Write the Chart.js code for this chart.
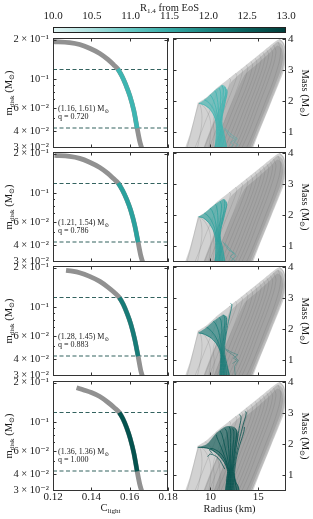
<!DOCTYPE html>
<html>
<head>
<meta charset="utf-8">
<script src="https://cdn.jsdelivr.net/npm/chart.js@4.4.1/dist/chart.umd.min.js"></script>
<style>
  html, body { margin:0; padding:0; background:#ffffff; }
  #wrap { position:relative; width:313px; height:519px; overflow:hidden; background:#fff; }
  #wrap canvas { position:absolute; left:0; top:0; }
  .lbl { position:absolute; font-family:"Liberation Serif","DejaVu Serif",serif; color:#1a1a1a; white-space:nowrap; line-height:1; }
  .lbl sub { font-size:68%; vertical-align:-0.3em; line-height:0; }
</style>
</head>
<body>
<div id="wrap"></div>
<script>
// ================= DATA =================
const colorbarTicks  = [10.0, 10.5, 11.0, 11.5, 12.0, 12.5, 13.0];
const colorbarStops  = [10.0, 10.5, 11.0, 11.5, 12.0, 12.5, 13.0];
const colorbarColors = ['#e2f4f3','#abe0de','#67c8c4','#36a9a5','#1b837f','#0a5f5b','#013d3a'];

const binaryMasses = ['(1.16, 1.61)', '(1.21, 1.54)', '(1.28, 1.45)', '(1.36, 1.36)'];
const massRatios   = ['0.720', '0.786', '0.883', '1.000'];
const panelColors  = ['#3db5b1', '#2aa19d', '#177b77', '#04524e'];

const cLightTicks     = [0.12, 0.14, 0.16, 0.18];
const mDiskTicks      = [0.03, 0.04, 0.06, 0.1, 0.2];
const mDiskTickLabels = ['3 × 10⁻²', '4 × 10⁻²', '6 × 10⁻²', '10⁻¹', '2 × 10⁻¹'];
const mDiskMinorTicks = [0.05, 0.07, 0.08, 0.09];
const radiusTicks     = [10, 15];
const massTicks       = [1, 2, 3, 4];
const mDiskBounds     = [0.118, 0.042];

// m_disk(C_light) curves, one per row
const cLight1 = [0.1200,0.1286,0.1339,0.1391,0.1444,0.1486,0.1517,0.1538,0.1559,0.1580,0.1601,0.1622,0.1639,0.1653,0.1664];
const mDisk1  = [0.1937,0.1900,0.1838,0.1718,0.1567,0.1410,0.1280,0.1192,0.1055,0.0899,0.0741,0.0569,0.0418,0.0330,0.0291];
const cLight2 = [0.1208,0.1286,0.1339,0.1391,0.1444,0.1486,0.1517,0.1540,0.1562,0.1584,0.1605,0.1626,0.1644,0.1658,0.1669];
const mDisk2  = [0.1940,0.1905,0.1840,0.1720,0.1568,0.1412,0.1282,0.1190,0.1052,0.0896,0.0739,0.0567,0.0418,0.0330,0.0291];
const cLight3 = [0.1268,0.1300,0.1339,0.1391,0.1444,0.1486,0.1520,0.1546,0.1566,0.1586,0.1606,0.1626,0.1644,0.1657,0.1667];
const mDisk3  = [0.1905,0.1880,0.1830,0.1716,0.1570,0.1420,0.1290,0.1180,0.1050,0.0895,0.0738,0.0567,0.0418,0.0330,0.0291];
const cLight4 = [0.1323,0.1360,0.1400,0.1444,0.1486,0.1520,0.1546,0.1565,0.1584,0.1603,0.1622,0.1639,0.1653,0.1664];
const mDisk4  = [0.1830,0.1760,0.1680,0.1565,0.1415,0.1285,0.1180,0.1055,0.0905,0.0745,0.0575,0.0418,0.0330,0.0291];
const coloredRange = [[7,12],[7,12],[7,12],[6,11]];   // indices of the EoS-allowed part

// Mass-radius: all EoS (grey) [R km, M Msun]
const fanOutline = [[7.3,0.45],[7.8,0.9],[8.25,1.4],[8.55,1.78],[8.68,1.93],[9.5,2.1],[10.6,2.4],[12.0,2.74],[13.5,3.1],[15.0,3.47],[16.3,3.8],[17.0,3.96],[17.3,3.99],[17.7,3.85],[17.9,3.5],[17.7,3.0],[16.4,2.0],[15.2,1.1],[14.4,0.45]];
const fanCore = [[9.2,0.45],[10.0,1.1],[10.9,1.75],[11.7,2.3],[12.2,2.62],[13.5,2.98],[15.0,3.36],[16.3,3.7],[17.05,3.9],[17.55,3.78],[17.75,3.45],[17.5,3.0],[16.25,2.0],[15.05,1.1],[14.25,0.45]];
const fanDense = [[10.3,0.45],[11.0,1.0],[11.9,1.7],[12.8,2.35],[13.6,2.85],[15.0,3.22],[16.3,3.58],[17.0,3.78],[17.45,3.68],[17.6,3.4],[17.35,3.0],[16.1,2.0],[14.9,1.1],[14.1,0.45]];
const greyCurves = [
  [[7.5,0.45],[7.9,0.9],[8.3,1.4],[8.6,1.75],[8.75,1.9],[8.68,1.95]],
  [[8.6,0.45],[8.9,0.9],[9.1,1.35],[9.05,1.7],[8.85,1.92],[8.75,1.94]],
  [[9.8,0.45],[10.0,0.9],[10.0,1.35],[9.6,1.7],[9.0,1.92],[8.8,1.94]],
  [[10.9,0.45],[11.0,0.9],[10.9,1.35],[10.4,1.75],[9.6,2.04],[9.4,2.08]],
  [[8.3,0.45],[8.9,0.9],[9.6,1.45],[10.3,1.95],[10.7,2.33],[10.6,2.4]],
  [[9.3,0.45],[10.0,1.0],[10.9,1.7],[11.7,2.3],[12.1,2.67],[11.95,2.74]],
  [[9.8,0.45],[10.5,1.0],[11.4,1.7],[12.25,2.35],[12.75,2.8],[12.6,2.9]],
  [[10.3,0.45],[11.0,1.0],[11.9,1.7],[12.8,2.4],[13.35,2.95],[13.2,3.04]],
  [[10.6,0.45],[11.4,1.0],[12.35,1.72],[13.3,2.45],[13.9,3.03],[13.75,3.16]],
  [[11.0,0.45],[11.8,1.0],[12.8,1.75],[13.8,2.5],[14.4,3.12],[14.25,3.27]],
  [[11.4,0.45],[12.2,1.0],[13.2,1.78],[14.2,2.55],[14.85,3.2],[14.7,3.37]],
  [[11.8,0.45],[12.6,1.0],[13.6,1.8],[14.6,2.6],[15.3,3.3],[15.15,3.47]],
  [[12.15,0.45],[12.95,1.0],[13.95,1.8],[15.0,2.65],[15.7,3.38],[15.5,3.56]],
  [[12.5,0.45],[13.3,1.0],[14.3,1.8],[15.4,2.7],[16.1,3.45],[15.9,3.64]],
  [[12.85,0.45],[13.65,1.0],[14.7,1.85],[15.8,2.75],[16.5,3.5],[16.25,3.72]],
  [[13.2,0.45],[14.0,1.0],[15.1,1.9],[16.2,2.8],[16.85,3.55],[16.6,3.8]],
  [[13.7,0.45],[14.55,1.05],[15.7,1.95],[16.85,2.9],[17.35,3.58],[17.1,3.88]],
  [[14.2,0.45],[15.1,1.1],[16.3,2.0],[17.5,3.0],[17.8,3.55],[17.6,3.85],[17.2,3.97]],
  [[10.2,0.45],[10.4,0.95],[10.3,1.4],[10.9,1.9],[11.3,2.3],[11.2,2.5]]
];

// Mass-radius: EoS consistent with each binary (coloured)
const tealShape1 = [[8.8,1.93],[9.4,2.05],[10.0,2.22],[10.5,2.36],[11.0,2.47],[11.3,2.52],[11.6,2.45],[11.75,2.28],[11.55,1.95],[11.2,1.35],[11.45,0.9],[11.7,0.45],[10.5,0.45],[10.6,0.9],[10.55,1.35],[10.1,1.68],[9.4,1.87]];
const tealCurves1 = [
  [[10.5,0.45],[10.6,0.9],[10.55,1.35],[10.1,1.68],[9.4,1.87],[8.8,1.93]],
  [[10.65,0.45],[10.72,0.9],[10.66,1.35],[10.3,1.74],[9.7,1.98],[9.35,2.04]],
  [[10.8,0.45],[10.85,0.9],[10.78,1.35],[10.55,1.8],[10.15,2.13],[9.95,2.2]],
  [[10.95,0.45],[10.98,0.9],[10.88,1.35],[10.8,1.85],[10.6,2.25],[10.45,2.33]],
  [[11.1,0.45],[11.08,0.9],[10.97,1.35],[11.05,1.9],[11.05,2.3],[10.9,2.42]],
  [[11.25,0.45],[11.18,0.9],[11.05,1.35],[11.25,1.92],[11.35,2.38],[11.2,2.5]],
  [[11.45,0.45],[11.3,0.9],[11.12,1.35],[11.42,1.95],[11.6,2.3],[11.5,2.45]],
  [[11.7,0.45],[11.45,0.9],[11.2,1.35],[11.55,1.98],[11.75,2.28],[11.68,2.38]]
];
const tealWiggles1 = [
  [[12.0,0.5],[12.4,0.6],[12.1,0.68],[12.6,0.78],[12.0,0.88],[11.4,1.15]],
  [[12.6,0.5],[12.9,0.6],[12.5,0.68],[12.8,0.8],[12.3,0.9],[11.6,1.1]]
];
const tealShape2 = [[8.75,1.95],[9.35,2.06],[9.95,2.22],[10.5,2.35],[11.0,2.45],[11.4,2.52],[11.65,2.45],[11.7,2.32],[11.45,1.98],[11.02,1.36],[11.3,0.9],[11.5,0.45],[10.5,0.45],[10.55,0.9],[10.45,1.36],[9.95,1.7],[9.3,1.9]];
const tealCurves2 = [
  [[10.5,0.45],[10.55,0.9],[10.45,1.36],[9.95,1.7],[9.3,1.9],[8.75,1.95]],
  [[10.65,0.45],[10.68,0.9],[10.58,1.36],[10.2,1.76],[9.65,2.0],[9.35,2.06]],
  [[10.8,0.45],[10.8,0.9],[10.68,1.36],[10.5,1.82],[10.15,2.15],[9.95,2.22]],
  [[10.95,0.45],[10.92,0.9],[10.78,1.36],[10.78,1.88],[10.65,2.27],[10.5,2.35]],
  [[11.1,0.45],[11.03,0.9],[10.86,1.36],[11.05,1.92],[11.15,2.33],[11.0,2.45]],
  [[11.28,0.45],[11.15,0.9],[10.94,1.36],[11.3,1.95],[11.5,2.38],[11.4,2.5]],
  [[11.5,0.45],[11.3,0.9],[11.02,1.36],[11.45,1.98],[11.7,2.32],[11.62,2.43]]
];
const tealWiggles2 = [
  [[12.0,0.5],[12.35,0.6],[12.05,0.68],[12.5,0.78],[11.9,0.88],[11.3,1.15]],
  [[12.6,0.5],[12.4,0.6],[12.7,0.7],[12.2,0.85],[11.5,1.1]]
];
const tealShape3 = [[8.75,1.88],[9.6,2.06],[10.3,2.25],[10.9,2.38],[11.35,2.46],[11.6,2.42],[11.7,2.3],[11.6,1.92],[11.4,1.3],[11.7,0.9],[12.0,0.45],[11.0,0.45],[11.05,0.9],[11.0,1.3],[10.3,1.65],[9.4,1.83]];
const tealCurves3 = [
  [[11.0,0.45],[11.05,0.9],[11.0,1.3],[10.3,1.65],[9.4,1.83],[8.75,1.88]],
  [[11.1,0.45],[11.15,0.9],[11.08,1.3],[10.6,1.72],[9.9,2.0],[9.6,2.06]],
  [[11.2,0.45],[11.25,0.9],[11.15,1.3],[10.95,1.8],[10.55,2.17],[10.3,2.25]],
  [[11.35,0.45],[11.35,0.9],[11.22,1.3],[11.2,1.85],[11.1,2.28],[10.9,2.38]],
  [[11.5,0.45],[11.45,0.9],[11.3,1.3],[11.42,1.9],[11.5,2.35],[11.35,2.46]],
  [[11.7,0.45],[11.55,0.9],[11.4,1.3],[11.6,1.92],[11.7,2.3],[11.6,2.42]],
  [[12.0,0.45],[11.7,0.9],[11.48,1.3],[11.7,1.95],[12.1,2.55],[12.25,2.78],[12.1,2.82]]
];
const tealWiggles3 = [
  [[12.3,0.9],[12.8,1.0],[12.4,1.07],[12.85,1.18],[12.2,1.26],[11.5,1.38]],
  [[12.6,0.5],[12.5,0.8],[12.9,1.0],[12.45,1.15],[11.6,1.33]]
];
const tealShape4 = [[8.65,1.9],[9.6,2.0],[10.5,2.32],[11.0,2.45],[11.5,2.55],[12.0,2.58],[12.6,2.52],[12.9,2.3],[12.7,1.9],[12.4,1.2],[12.6,0.9],[13.0,0.45],[11.6,0.45],[11.7,0.9],[11.75,1.2],[11.0,1.6],[9.9,1.85]];
const tealCurves4 = [
  [[11.6,0.45],[11.7,0.9],[11.75,1.2],[11.0,1.6],[9.9,1.85],[8.65,1.9]],
  [[11.7,0.45],[11.8,0.9],[11.82,1.2],[11.2,1.65],[10.3,1.85],[9.9,1.83],[10.2,1.7]],
  [[11.8,0.45],[11.88,0.9],[11.9,1.2],[11.3,1.75],[10.7,2.2],[10.6,2.3]],
  [[11.9,0.45],[11.95,0.9],[11.98,1.2],[11.6,1.8],[11.2,2.3],[11.0,2.42]],
  [[12.0,0.45],[12.02,0.9],[12.05,1.2],[11.9,1.85],[11.7,2.4],[11.5,2.5]],
  [[12.1,0.45],[12.1,0.9],[12.12,1.2],[12.1,1.9],[12.1,2.45],[11.95,2.55]],
  [[12.2,0.45],[12.18,0.9],[12.2,1.2],[12.35,1.9],[12.45,2.4],[12.3,2.5]],
  [[12.35,0.45],[12.28,0.9],[12.3,1.2],[12.55,1.9],[12.75,2.4],[12.6,2.5]],
  [[12.5,0.45],[12.38,0.9],[12.38,1.2],[12.7,1.9],[13.0,2.5],[13.2,2.85],[13.05,2.95]],
  [[12.8,0.45],[12.5,0.9],[12.45,1.2],[12.85,1.9],[13.4,2.6],[13.75,3.0],[13.6,3.05]],
  [[13.0,0.45],[12.9,0.65],[12.6,0.8],[12.55,1.2],[12.9,1.8],[13.5,2.4],[13.55,2.55]],
  [[11.5,1.2],[10.8,1.55],[10.0,1.68],[9.7,1.6]]
];
const tealWiggles4 = [];

const leftData  = [[cLight1,mDisk1],[cLight2,mDisk2],[cLight3,mDisk3],[cLight4,mDisk4]];
const rightData = [[tealShape1,tealCurves1,tealWiggles1],[tealShape2,tealCurves2,tealWiggles2],
                   [tealShape3,tealCurves3,tealWiggles3],[tealShape4,tealCurves4,tealWiggles4]];

// ================= LAYOUT =================
const W = 313, H = 519;
const rowTops = [38, 152, 266, 381], rowH = 110;
const leftBox = [53, 168], rightBox = [173, 286];
const cRange = [0.12, 0.18], mRange = [0.0295, 0.206];
const rRange = [6.08, 17.9], massRange = [0.5, 4.02];
const FONT = '"Liberation Serif", "DejaVu Serif", serif';
const INK = '#1a1a1a';

Chart.defaults.font.family = FONT;
Chart.defaults.color = INK;

const framePlugin = {
  id: 'frame',
  afterDraw(chart, args, o) {
    if (!o || !o.on) return;
    const {ctx, chartArea: a, scales} = chart;
    ctx.save();
    ctx.strokeStyle = '#333'; ctx.lineWidth = 1;
    ctx.beginPath();
    const tick = (vals, len, axis) => (vals || []).forEach(v => {
      if (axis === 'x') {
        const p = Math.round(scales.x.getPixelForValue(v)) + 0.5;
        ctx.moveTo(p, a.top); ctx.lineTo(p, a.top + len);
        ctx.moveTo(p, a.bottom); ctx.lineTo(p, a.bottom - len);
      } else {
        const p = Math.round(scales.y.getPixelForValue(v)) + 0.5;
        ctx.moveTo(a.left, p); ctx.lineTo(a.left + len, p);
        ctx.moveTo(a.right, p); ctx.lineTo(a.right - len, p);
      }
    });
    tick(o.xMajor, 3.5, 'x'); tick(o.yMajor, 3.5, 'y'); tick(o.yMinor, 2, 'y');
    ctx.stroke();
    ctx.strokeRect(a.left + 0.5, a.top + 0.5, a.right - a.left - 1, a.bottom - a.top - 1);
    ctx.restore();
  }
};
const cbarPlugin = {
  id: 'cbar',
  beforeDatasetsDraw(chart, args, o) {
    if (!o || !o.on) return;
    const {ctx, chartArea: a, scales: {x}} = chart;
    const g = ctx.createLinearGradient(a.left, 0, a.right, 0);
    colorbarStops.forEach((v, i) => g.addColorStop((x.getPixelForValue(v) - a.left) / (a.right - a.left), colorbarColors[i]));
    ctx.save();
    ctx.fillStyle = g; ctx.fillRect(a.left, a.top, a.right - a.left, a.bottom - a.top);
    ctx.strokeStyle = '#222'; ctx.lineWidth = 1;
    ctx.strokeRect(a.left + 0.5, a.top + 0.5, a.right - a.left - 1, a.bottom - a.top - 1);
    ctx.restore();
  }
};
Chart.register(framePlugin, cbarPlugin);

const wrap = document.getElementById('wrap');
function newCanvas() {
  const c = document.createElement('canvas');
  c.width = W; c.height = H; c.style.width = W + 'px'; c.style.height = H + 'px';
  wrap.appendChild(c); return c;
}
function fixW(w) { return s => { s.width = w; s.paddingTop = 0; s.paddingBottom = 0; s.paddingLeft = 0; s.paddingRight = 0; }; }
function fixH(h) { return s => { s.height = h; s.paddingTop = 0; s.paddingBottom = 0; s.paddingLeft = 0; s.paddingRight = 0; }; }
const xy = pairs => pairs.map(p => ({x: p[0], y: p[1]}));
function rgba(hex, a) {
  const n = parseInt(hex.slice(1), 16);
  return `rgba(${n >> 16},${(n >> 8) & 255},${n & 255},${a})`;
}
const baseOpts = {
  responsive: false, animation: false, devicePixelRatio: 1,
  events: [], plugins: {legend: {display: false}, tooltip: {enabled: false}},
  elements: {point: {radius: 0}}
};

// ================= COLORBAR =================
new Chart(newCanvas(), {
  type: 'scatter',
  data: {datasets: [{data: []}]},
  options: Object.assign({}, baseOpts, {
    layout: {padding: {left: leftBox[0], right: W - rightBox[1], top: 0, bottom: H - 33}},
    plugins: Object.assign({}, baseOpts.plugins, {cbar: {on: true}}),
    scales: {
      x: {type: 'linear', position: 'top', min: colorbarTicks[0], max: colorbarTicks[colorbarTicks.length - 1],
          afterFit: fixH(27), afterBuildTicks: s => { s.ticks = colorbarTicks.map(v => ({value: v})); },
          grid: {display: false, drawTicks: false}, border: {display: false},
          ticks: {font: {size: 11}, color: INK, padding: 4, maxRotation: 0, callback: v => Number(v).toFixed(1)}},
      y: {display: false, min: 0, max: 1}
    }
  })
});

// ================= LEFT PANELS =================
for (let i = 0; i < 4; i++) {
  const T = rowTops[i], B = T + rowH, bottomRow = (i === 3);
  const [cl, md] = leftData[i];
  const pts = cl.map((c, k) => ({x: c, y: md[k]}));
  const [s0, s1] = coloredRange[i];
  const ds = [];
  ds.push({data: pts.slice(s0, s1 + 1), borderColor: panelColors[i], borderWidth: 4.4, showLine: true,
           pointRadius: 0, cubicInterpolationMode: 'monotone', order: 1});
  ds.push({data: pts, borderColor: '#919191', borderWidth: 4.8, showLine: true,
           pointRadius: 0, cubicInterpolationMode: 'monotone', order: 2});
  mDiskBounds.forEach((b, k) => ds.push({data: [{x: cRange[0], y: b}, {x: cRange[1], y: b}],
           borderColor: '#33625f', borderWidth: 1.1, borderDash: [4, 2.5], showLine: true, pointRadius: 0, order: 3 + k}));
  new Chart(newCanvas(), {
    type: 'scatter',
    data: {datasets: ds},
    options: Object.assign({}, baseOpts, {
      layout: {padding: {left: 0, right: W - leftBox[1], top: T, bottom: H - B - 20}},
      plugins: Object.assign({}, baseOpts.plugins, {frame: {on: true, xMajor: cLightTicks, yMajor: mDiskTicks, yMinor: mDiskMinorTicks}}),
      scales: {
        x: {type: 'linear', min: cRange[0], max: cRange[1], afterFit: fixH(20),
            afterBuildTicks: s => { s.ticks = cLightTicks.map(v => ({value: v})); },
            grid: {display: false, drawTicks: false}, border: {display: false},
            ticks: {display: bottomRow, font: {size: 11}, color: INK, padding: 0, maxRotation: 0,
                    callback: v => Number(v).toFixed(2)}},
        y: {type: 'logarithmic', min: mRange[0], max: mRange[1], afterFit: fixW(leftBox[0]),
            afterBuildTicks: s => { s.ticks = mDiskTicks.map(v => ({value: v})); },
            grid: {display: false, drawTicks: false}, border: {display: false},
            ticks: {font: {size: 10.5}, color: INK, padding: 4, callback: (v, idx) => mDiskTickLabels[idx]}}
      }
    })
  });
}

// ================= RIGHT PANELS =================
for (let i = 0; i < 4; i++) {
  const T = rowTops[i], B = T + rowH, bottomRow = (i === 3);
  const [shape, curves, wiggles] = rightData[i];
  const col = panelColors[i];
  const ds = [];
  ds.push({data: xy(fanOutline), showLine: true, borderWidth: 0, borderColor: 'rgba(0,0,0,0)',
           backgroundColor: 'rgba(165,165,165,0.5)', fill: 'shape', tension: 0.2, pointRadius: 0, order: 100});
  ds.push({data: xy(fanCore), showLine: true, borderWidth: 0, borderColor: 'rgba(0,0,0,0)',
           backgroundColor: 'rgba(120,120,120,0.3)', fill: 'shape', tension: 0.2, pointRadius: 0, order: 99});
  ds.push({data: xy(fanDense), showLine: true, borderWidth: 0, borderColor: 'rgba(0,0,0,0)',
           backgroundColor: 'rgba(120,120,120,0.3)', fill: 'shape', tension: 0.2, pointRadius: 0, order: 98});
  greyCurves.forEach((c, k) => ds.push({data: xy(c), showLine: true, borderWidth: 0.8,
           borderColor: 'rgba(95,95,95,0.22)', tension: 0.4, pointRadius: 0, order: 90 - k}));
  ds.push({data: xy(shape), showLine: true, borderWidth: 0, borderColor: 'rgba(0,0,0,0)',
           backgroundColor: rgba(col, 0.62), fill: 'shape', tension: 0.3, pointRadius: 0, order: 50});
  curves.forEach((c, k) => ds.push({data: xy(c), showLine: true, borderWidth: 0.9,
           borderColor: rgba(col, 0.85), tension: 0.4, pointRadius: 0, order: 40 - k}));
  wiggles.forEach((c, k) => ds.push({data: xy(c), showLine: true, borderWidth: 0.7,
           borderColor: rgba(col, 0.6), tension: 0, pointRadius: 0, order: 20 - k}));
  new Chart(newCanvas(), {
    type: 'scatter',
    data: {datasets: ds},
    options: Object.assign({}, baseOpts, {
      layout: {padding: {left: rightBox[0], right: W - rightBox[1] - 27, top: T, bottom: H - B - 20}},
      plugins: Object.assign({}, baseOpts.plugins, {frame: {on: true, xMajor: radiusTicks, yMajor: massTicks}}),
      scales: {
        x: {type: 'linear', min: rRange[0], max: rRange[1], afterFit: fixH(20),
            afterBuildTicks: s => { s.ticks = radiusTicks.map(v => ({value: v})); },
            grid: {display: false, drawTicks: false}, border: {display: false},
            ticks: {display: bottomRow, font: {size: 11}, color: INK, padding: 0, maxRotation: 0}},
        y: {type: 'linear', position: 'right', min: massRange[0], max: massRange[1], afterFit: fixW(27),
            afterBuildTicks: s => { s.ticks = massTicks.map(v => ({value: v})); },
            grid: {display: false, drawTicks: false}, border: {display: false},
            ticks: {font: {size: 11}, color: INK, padding: 2}}
      }
    })
  });
}

// ================= TEXT =================
function label(html, cx, cy, size, rot) {
  const d = document.createElement('div');
  d.className = 'lbl';
  d.innerHTML = html;
  d.style.fontSize = size + 'px';
  d.style.left = cx + 'px'; d.style.top = cy + 'px';
  d.style.transform = `translate(-50%,-50%)` + (rot ? ` rotate(${rot}deg)` : '');
  wrap.appendChild(d);
  return d;
}
function textAt(html, x, cy, size) {
  const d = document.createElement('div');
  d.className = 'lbl';
  d.innerHTML = html;
  d.style.fontSize = size + 'px';
  d.style.left = x + 'px'; d.style.top = cy + 'px';
  d.style.transform = 'translateY(-50%)';
  wrap.appendChild(d);
}
label('R<sub>1.4</sub> from EoS', (leftBox[0] + rightBox[1]) / 2, 7.5, 10.5);
for (let i = 0; i < 4; i++) {
  const T = rowTops[i], mid = T + rowH / 2;
  label('m<sub>disk</sub> (M<sub>⊙</sub>)', 8.5, mid, 10.5, -90);
  label('Mass (M<sub>⊙</sub>)', 305, mid, 10.5, 90);
  textAt(binaryMasses[i] + ' M<sub>⊙</sub>', 58, T + 71, 8);
  textAt('q = ' + massRatios[i], 58, T + 78.5, 8);
}
label('C<sub>light</sub>', (leftBox[0] + leftBox[1]) / 2, 507.5, 10.5);
label('Radius (km)', (rightBox[0] + rightBox[1]) / 2, 509, 10.5);
</script>
</body>
</html>
